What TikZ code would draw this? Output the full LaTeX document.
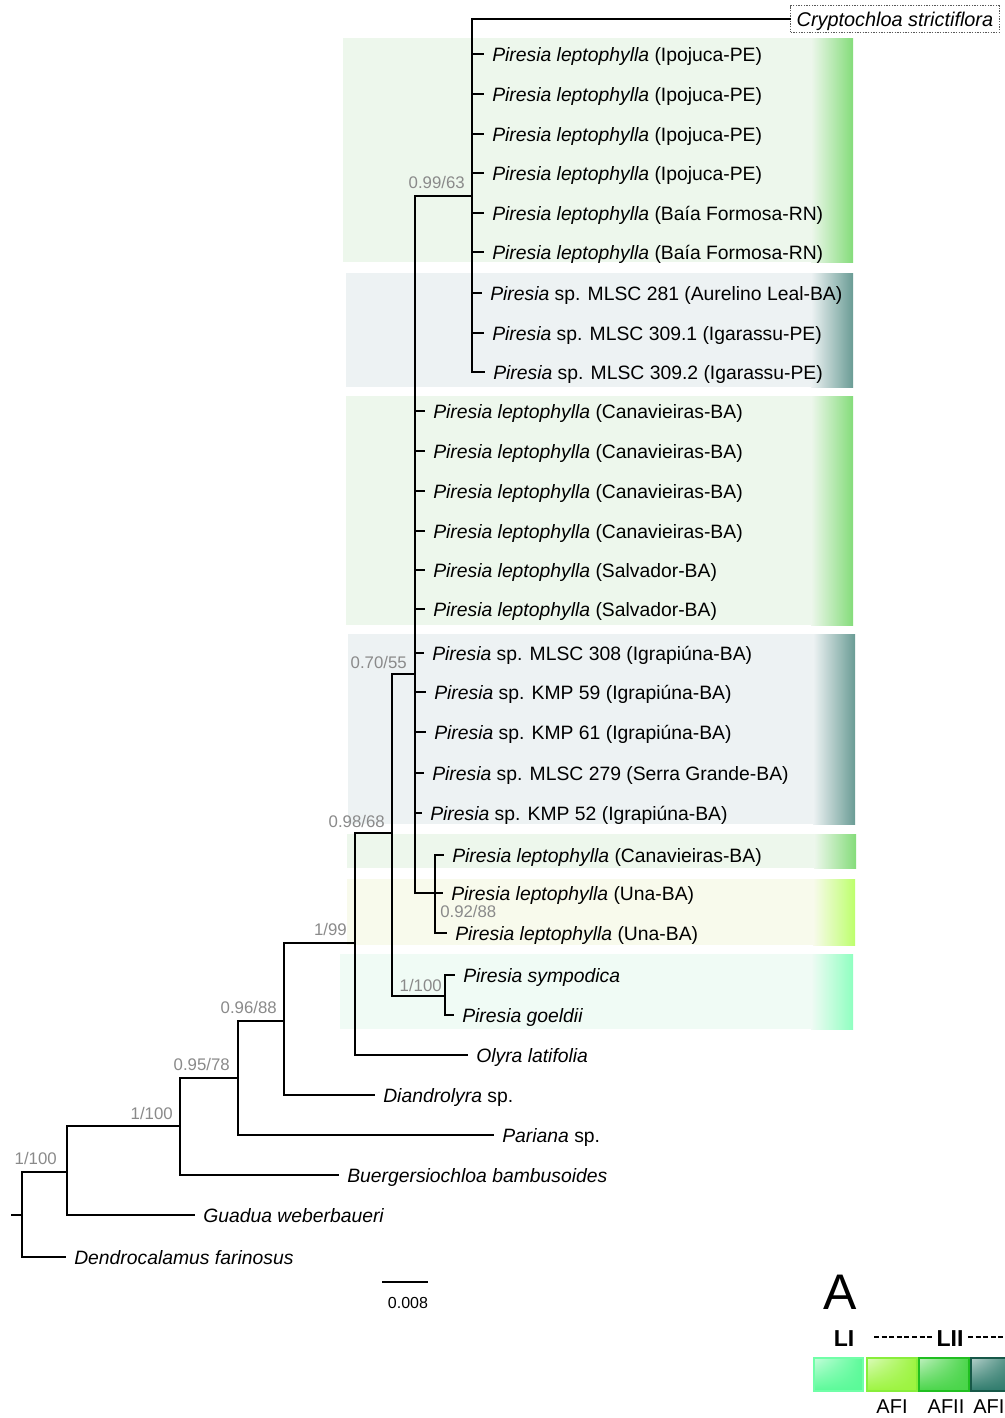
\documentclass[tikz,border=0pt]{standalone}
\usepackage{fontspec}
\setmainfont{Liberation Sans}
\usetikzlibrary{shadings}
\definecolor{supgray}{HTML}{8A8A8A}
\definecolor{gBase}{HTML}{EDF7EC}
\definecolor{gStrong}{HTML}{84DC7A}
\definecolor{tBase}{HTML}{EDF2F3}
\definecolor{tStrong}{HTML}{6A9C95}
\definecolor{yBase}{HTML}{F8FAEC}
\definecolor{yStrong}{HTML}{BDFF6C}
\definecolor{mBase}{HTML}{F0FBF5}
\definecolor{mStrong}{HTML}{8FFFC0}
\definecolor{k1}{HTML}{5AFA98}\definecolor{k1b}{HTML}{70FFA8}
\definecolor{k2}{HTML}{9CF43F}\definecolor{k2b}{HTML}{88EE3A}
\definecolor{k3}{HTML}{49D549}\definecolor{k3b}{HTML}{20BF20}
\definecolor{k4}{HTML}{2F7B6C}\definecolor{k4b}{HTML}{165848}
\newcommand\PLep{\textit{Piresia leptophylla}}
\newcommand\PSpec{\textit{Piresia} sp.}
\newcommand\bandbox[6]{%
  \fill[#5] (#1,#2) rectangle (#3,#4);
  \shade[left color=#5, right color=#6] (#3-42,#2) rectangle (#3,#4);}
\newcommand\legbox[6]{%
  \shade[upper left=#5!35!white, upper right=#5, lower left=#5, lower right=#5] (#1,#2) rectangle (#3,#4);
  \draw[#6, line width=1.3pt] (#1,#2) rectangle (#3,#4);}
\begin{document}
\begin{tikzpicture}[x=0.75pt,y=-0.75pt,
  br/.style={line width=2pt, line cap=rect},
  leaf/.style={anchor=west, inner xsep=6.75pt, inner ysep=0pt, text height=11.5pt, text depth=1pt, font=\fontsize{14.5}{17}\selectfont},
  sup/.style={anchor=base east, inner sep=0pt, text=supgray, font=\fontsize{12.6}{15}\selectfont},
  crypto/.style={anchor=west, draw=black!65, densely dotted, line width=1pt, inner xsep=4.5pt, inner ysep=3.6pt, text height=11.8pt, text depth=1pt, font=\fontsize{14.9}{17}\selectfont},
  legtxt/.style={anchor=base, inner sep=0pt, font=\fontsize{15}{17}\selectfont}]
\useasboundingbox (0,0) rectangle (1005,1418);
\clip (0,0) rectangle (1005,1418);
\fill[white] (0,0) rectangle (1005,1418);
% ---------- coloured bands ----------
\bandbox{343}{38}{853}{262}{gBase}{gStrong}
\bandbox{346}{273}{853}{387}{tBase}{tStrong}
\bandbox{346}{396}{853}{625}{gBase}{gStrong}
\bandbox{348}{634}{855}{824}{tBase}{tStrong}
\bandbox{347}{834}{856}{868}{gBase}{gStrong}
\bandbox{347}{879}{855}{945}{yBase}{yStrong}
\bandbox{340}{954}{853}{1029}{mBase}{mStrong}
% ---------- internal nodes ----------
\coordinate (stub) at (12,1215);
\coordinate (root) at (22,1215);
\coordinate (nA) at (67,1172);
\coordinate (nB) at (180,1126);
\coordinate (nC) at (238,1078);
\coordinate (nD) at (284,1021);
\coordinate (nE) at (355,943);
\coordinate (nF) at (392,833);
\coordinate (nG) at (415,674);
\coordinate (n99) at (472,196);
\coordinate (nU) at (435,893);
\coordinate (nS) at (445,996);
% ---------- leaves ----------
\node[crypto] (c0) at (790,19) {\textit{Cryptochloa strictiflora}};
\node[leaf] (a1) at (483,54) {\PLep{} (Ipojuca-PE)};
\node[leaf] (a2) at (483,94) {\PLep{} (Ipojuca-PE)};
\node[leaf] (a3) at (483,134) {\PLep{} (Ipojuca-PE)};
\node[leaf] (a4) at (483,173) {\PLep{} (Ipojuca-PE)};
\node[leaf] (a5) at (483,213) {\PLep{} (Baía Formosa-RN)};
\node[leaf] (a6) at (483,252) {\PLep{} (Baía Formosa-RN)};
\node[leaf] (a7) at (481,293) {\PSpec{} MLSC 281 (Aurelino Leal-BA)};
\node[leaf] (a8) at (483,333) {\PSpec{} MLSC 309.1 (Igarassu-PE)};
\node[leaf] (a9) at (484,372) {\PSpec{} MLSC 309.2 (Igarassu-PE)};
\node[leaf] (g1) at (424,411) {\PLep{} (Canavieiras-BA)};
\node[leaf] (g2) at (424,451) {\PLep{} (Canavieiras-BA)};
\node[leaf] (g3) at (424,491) {\PLep{} (Canavieiras-BA)};
\node[leaf] (g4) at (424,531) {\PLep{} (Canavieiras-BA)};
\node[leaf] (g5) at (424,570) {\PLep{} (Salvador-BA)};
\node[leaf] (g6) at (424,609) {\PLep{} (Salvador-BA)};
\node[leaf] (g7) at (423,653) {\PSpec{} MLSC 308 (Igrapiúna-BA)};
\node[leaf] (g8) at (425,692) {\PSpec{} KMP 59 (Igrapiúna-BA)};
\node[leaf] (g9) at (425,732) {\PSpec{} KMP 61 (Igrapiúna-BA)};
\node[leaf] (g10) at (423,773) {\PSpec{} MLSC 279 (Serra Grande-BA)};
\node[leaf] (g11) at (421,813) {\PSpec{} KMP 52 (Igrapiúna-BA)};
\node[leaf] (u1) at (443,855) {\PLep{} (Canavieiras-BA)};
\node[leaf] (u2) at (442,893) {\PLep{} (Una-BA)};
\node[leaf] (u3) at (446,933) {\PLep{} (Una-BA)};
\node[leaf] (s1) at (454,975) {\textit{Piresia sympodica}};
\node[leaf] (s2) at (453,1015) {\textit{Piresia goeldii}};
\node[leaf] (olyra) at (467,1055) {\textit{Olyra latifolia}};
\node[leaf] (diand) at (374,1095) {\textit{Diandrolyra} sp.};
\node[leaf] (pari) at (493,1135) {\textit{Pariana} sp.};
\node[leaf] (buerg) at (338,1175) {\textit{Buergersiochloa bambusoides}};
\node[leaf] (guad) at (194,1215) {\textit{Guadua weberbaueri}};
\node[leaf] (dend) at (65,1257) {\textit{Dendrocalamus farinosus}};
% ---------- branches ----------
\draw[br] (stub) -- (root);
\draw[br] (root) |- (nA);
\draw[br] (root) |- (dend.west);
\draw[br] (nA) |- (nB);
\draw[br] (nA) |- (guad.west);
\draw[br] (nB) |- (nC);
\draw[br] (nB) |- (buerg.west);
\draw[br] (nC) |- (nD);
\draw[br] (nC) |- (pari.west);
\draw[br] (nD) |- (nE);
\draw[br] (nD) |- (diand.west);
\draw[br] (nE) |- (nF);
\draw[br] (nE) |- (olyra.west);
\draw[br] (nF) |- (nG);
\draw[br] (nF) |- (nS);
\draw[br] (nG) |- (n99);
\foreach \c in {g1,g2,g3,g4,g5,g6,g7,g8,g9,g10,g11} \draw[br] (nG) |- (\c.west);
\draw[br] (nG) |- (nU);
\draw[br] (n99) |- (c0.west);
\foreach \c in {a1,a2,a3,a4,a5,a6,a7,a8,a9} \draw[br] (n99) |- (\c.west);
\foreach \c in {u1,u2,u3} \draw[br] (nU) |- (\c.west);
\foreach \c in {s1,s2} \draw[br] (nS) |- (\c.west);
% ---------- support values ----------
\node[sup] (sv1) at (57,1164) {1/100};
\node[sup] (sv2) at (173,1119) {1/100};
\node[sup] (sv3) at (230,1070) {0.95/78};
\node[sup] (sv4) at (277,1013) {0.96/88};
\node[sup] (sv5) at (347,935) {1/99};
\node[sup] (sv6) at (385,827) {0.98/68};
\node[sup] (sv7) at (407,668) {0.70/55};
\node[sup] (sv8) at (465,188) {0.99/63};
\node[sup, anchor=base west] (sv9) at (440,917) {0.92/88};
\node[sup] (sv10) at (442,991) {1/100};
% ---------- scale bar ----------
\coordinate (sbA) at (382,1282);
\coordinate (sbB) at (428,1282);
\draw[line width=1.5pt] (sbA) -- (sbB);
\node[anchor=base, inner sep=0pt, font=\fontsize{12}{14}\selectfont] (sbl) at (408,1308) {0.008};
% ---------- legend ----------
\node[anchor=base, inner sep=0pt, font=\fontsize{37.5}{40}\selectfont] (lgA) at (840,1309) {A};
\node[anchor=base, inner sep=0pt, font=\bfseries\fontsize{17.3}{20}\selectfont] (lgLI) at (844,1346) {LI};
\node[anchor=base, inner sep=0pt, font=\bfseries\fontsize{17.3}{20}\selectfont] (lgLII) at (950,1346) {LII};
\coordinate (dA) at (874,1337); \coordinate (dB) at (933,1337);
\coordinate (dC) at (968,1337); \coordinate (dD) at (1012,1337);
\draw[line width=1.3pt, dash pattern=on 3.8pt off 1.9pt] (dA) -- (dB);
\draw[line width=1.3pt, dash pattern=on 3.8pt off 1.9pt] (dC) -- (dD);
\legbox{814}{1358}{863}{1391}{k1}{k1b}
\legbox{867}{1358}{917}{1391}{k2}{k2b}
\legbox{919}{1358}{969}{1391}{k3}{k3b}
\legbox{971}{1358}{1021}{1391}{k4}{k4b}
\node[legtxt] (af1) at (892,1413) {AFI};
\node[legtxt] (af2) at (946,1413) {AFII};
\node[legtxt, anchor=base west] (af3) at (973,1413) {AFI};
\end{tikzpicture}
\end{document}
